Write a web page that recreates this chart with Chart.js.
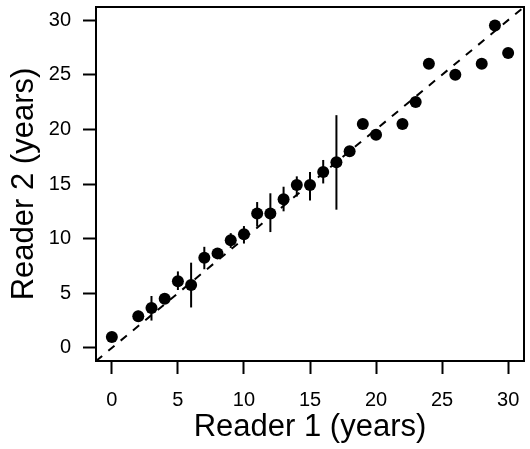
<!DOCTYPE html>
<html>
<head>
<meta charset="utf-8">
<script src="https://cdn.jsdelivr.net/npm/chart.js@4"></script>
<style>
  html, body { margin: 0; padding: 0; background: #fff; }
  #c { display: block; }
</style>
</head>
<body>
<canvas id="c" width="530" height="449"></canvas>
<script>
// Reader 1 ages (x) and Reader 2 mean ages (y)
const reader1 = [0, 2, 3, 4, 5, 6, 7, 8, 9, 10, 11, 12, 13, 14, 15, 16, 17, 18, 19, 20, 22, 23, 24, 26, 28, 29, 30];
const reader2 = [1.0, 2.9, 3.65, 4.5, 6.1, 5.75, 8.25, 8.65, 9.85, 10.4, 12.3, 12.3, 13.6, 14.9, 14.9, 16.1, 17.0, 18.0, 20.5, 19.5, 20.5, 22.5, 26.0, 25.0, 26.0, 29.5, 27.0];
// Error bar lower / upper limits (null = no bar)
const errLow  = [null, 2.4, 2.5, null, 5.3, 3.7, 7.2, null, 9.15, 9.55, 11.1, 10.6, 12.5, 13.85, 13.5, 15.05, 12.65, null, null, null, null, null, null, null, null, null, null];
const errHigh = [null, 3.4, 4.75, null, 7.0, 7.8, 9.25, null, 10.5, 11.15, 13.35, 14.15, 14.75, 15.7, 16.1, 17.2, 21.3, null, null, null, null, null, null, null, null, null, null];
// 1:1 reference line
const refLine = [-1.2, 31.2];
// Tick labels
const xTicks = [0, 5, 10, 15, 20, 25, 30];
const yTicks = [0, 5, 10, 15, 20, 25, 30];
const axisMin = -1.2, axisMax = 31.2;

const points = reader1.map((x, i) => ({ x: x, y: reader2[i] }));

const errorBars = {
  id: 'errorBars',
  afterDatasetsDraw(chart) {
    const ctx = chart.ctx;
    const xs = chart.scales.x, ys = chart.scales.y;
    ctx.save();
    ctx.strokeStyle = '#000';
    ctx.lineWidth = 2;
    ctx.lineCap = 'butt';
    reader1.forEach((x, i) => {
      if (errLow[i] == null || errHigh[i] == null) return;
      const px = xs.getPixelForValue(x);
      ctx.beginPath();
      ctx.moveTo(px, ys.getPixelForValue(errLow[i]));
      ctx.lineTo(px, ys.getPixelForValue(errHigh[i]));
      ctx.stroke();
    });
    ctx.restore();
  }
};

const boxPlugin = {
  id: 'boxPlugin',
  afterDraw(chart) {
    const a = chart.chartArea;
    const ctx = chart.ctx;
    ctx.save();
    ctx.strokeStyle = '#000';
    ctx.lineWidth = 2;
    ctx.strokeRect(a.left, a.top, a.right - a.left, a.bottom - a.top);
    ctx.restore();
  }
};

const tickFont = { family: '"Liberation Sans", Arial, sans-serif', size: 20 };
const titleFont = { family: '"Liberation Sans", Arial, sans-serif', size: 31 };

new Chart(document.getElementById('c'), {
  type: 'scatter',
  data: {
    datasets: [
      {
        type: 'line',
        data: refLine.map(v => ({ x: v, y: v })),
        borderColor: '#000',
        borderWidth: 2,
        borderDash: [8, 8],
        pointRadius: 0,
        fill: false,
        order: 2
      },
      {
        data: points,
        backgroundColor: '#000',
        borderColor: '#000',
        borderWidth: 0,
        pointRadius: 6,
        pointHoverRadius: 6,
        order: 1
      }
    ]
  },
  options: {
    responsive: false,
    animation: false,
    devicePixelRatio: 1,
    events: [],
    layout: { padding: { top: 7, right: 2, left: 0, bottom: 0 } },
    plugins: { legend: { display: false }, tooltip: { enabled: false } },
    scales: {
      x: {
        type: 'linear',
        min: axisMin, max: axisMax,
        afterBuildTicks: s => { s.ticks = xTicks.map(v => ({ value: v })); },
        afterFit: s => { s.height = 88; s.paddingLeft = 0; s.paddingRight = 0; },
        border: { display: false },
        grid: { drawOnChartArea: false, drawTicks: true, tickLength: 13, tickWidth: 2, tickColor: '#000' },
        ticks: { color: '#000', font: tickFont, padding: 14, maxRotation: 0, autoSkip: false },
        title: { display: true, text: 'Reader 1 (years)', color: '#000', font: titleFont, padding: { top: 0, bottom: 3 } }
      },
      y: {
        type: 'linear',
        min: axisMin, max: axisMax,
        afterBuildTicks: s => { s.ticks = yTicks.map(v => ({ value: v })); },
        afterFit: s => { s.width = 96; s.paddingTop = 0; s.paddingBottom = 0; },
        border: { display: false },
        grid: { drawOnChartArea: false, drawTicks: true, tickLength: 13, tickWidth: 2, tickColor: '#000' },
        ticks: { color: '#000', font: tickFont, padding: 12, autoSkip: false },
        title: { display: true, text: 'Reader 2 (years)', color: '#000', font: titleFont, padding: { top: 6, bottom: 0 } }
      }
    }
  },
  plugins: [errorBars, boxPlugin]
});
</script>
</body>
</html>
